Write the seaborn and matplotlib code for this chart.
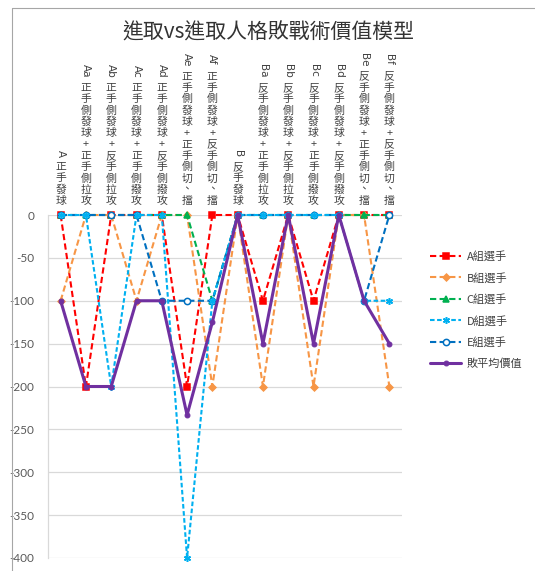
import matplotlib
matplotlib.use("Agg")
import matplotlib.pyplot as plt
import seaborn as sns
from matplotlib.transforms import blended_transform_factory
from matplotlib.lines import Line2D

# ---- data -------------------------------------------------------------
codes = ["A", "Aa", "Ab", "Ac", "Ad", "Ae", "Af",
         "B", "Ba", "Bb", "Bc", "Bd", "Be", "Bf"]
tactics = [
    "正手發球",
    "正手側發球+正手側拉攻",
    "正手側發球+反手側拉攻",
    "正手側發球+正手側撥攻",
    "正手側發球+反手側撥攻",
    "正手側發球+正手側切、擋",
    "正手側發球+反手側切、擋",
    "反手發球",
    "反手側發球+正手側拉攻",
    "反手側發球+反手側拉攻",
    "反手側發球+正手側撥攻",
    "反手側發球+反手側撥攻",
    "反手側發球+正手側切、擋",
    "反手側發球+反手側切、擋",
]
group_a = [0, -200, 0, 0, 0, -200, 0, 0, -100, 0, -100, 0, 0, 0]
group_b = [-100, 0, 0, -100, 0, 0, -200, 0, -200, 0, -200, 0, 0, -200]
group_c = [0, 0, 0, 0, 0, 0, -100, 0, 0, 0, 0, 0, 0, 0]
group_d = [0, 0, -200, 0, 0, -400, -100, 0, 0, 0, 0, 0, -100, -100]
group_e = [0, 0, 0, 0, -100, -100, -100, 0, 0, 0, 0, 0, -100, 0]
loss_avg = [-100, -200, -200, -100, -100, -233.3, -125, 0,
            -150, 0, -150, 0, -100, -150]
series_names = ["A組選手", "B組選手", "C組選手", "D組選手", "E組選手", "敗平均價值"]
y_ticks = [0, -50, -100, -150, -200, -250, -300, -350, -400]
title_text = "進取vs進取人格敗戰術價值模型"

# ---- style ------------------------------------------------------------
sns.set_style("white")
CJK = ["Noto Sans CJK TC", "DejaVu Sans"]
plt.rcParams["font.family"] = CJK
TXT = "#404040"

W, H = 535, 571
fig = plt.figure(figsize=(W / 100, H / 100), dpi=100)
fig.patch.set_facecolor("white")


def fy(py):
    return (H - py) / H


def fx(px):
    return px / W


ax = fig.add_axes([fx(48), fy(558), fx(402) - fx(48), fy(215) - fy(558)])
pos = list(range(len(codes)))

styles = [
    dict(data=group_a, color="#FF0000", marker="s", markersize=5,
         dashes=(3, 1.6), z=2.1),
    dict(data=group_b, color="#F79646", marker="D", markersize=3.5,
         dashes=(3, 1.6), z=2.2),
    dict(data=group_c, color="#00B050", marker="^", markersize=5,
         dashes=(3, 1.6), z=2.3),
    dict(data=group_d, color="#00B0F0", marker=(6, 2, 0), markersize=5,
         dashes=(2.2, 1.2), z=2.5),
    dict(data=group_e, color="#0070C0", marker="o", markersize=4.5,
         dashes=(3, 1.6), z=2.4, mfc="white"),
]

for name, st in zip(series_names[:5], styles):
    sns.lineplot(x=pos, y=st["data"], ax=ax, color=st["color"],
                 linewidth=1.5, linestyle=(0, st["dashes"]),
                 marker=st["marker"], markersize=st["markersize"],
                 markerfacecolor=st.get("mfc", st["color"]),
                 markeredgecolor=st["color"], markeredgewidth=1.1,
                 label=name, clip_on=False, zorder=st["z"], legend=False)

sns.lineplot(x=pos, y=loss_avg, ax=ax, color="#7030A0", linewidth=2.2,
             marker="o", markersize=3.5, markeredgecolor="#7030A0",
             label=series_names[5], clip_on=False, zorder=2.6, legend=False)

# ---- axes -------------------------------------------------------------
ax.set_xlim(-0.5, len(codes) - 0.5)
ax.set_ylim(-400, 0)
ax.set_xticks([])
ax.set_yticks(y_ticks)
ax.set_yticklabels([str(v) for v in y_ticks], fontsize=8.5, color="#595959",
                   family=["Lato", "DejaVu Sans"])
ax.tick_params(axis="y", length=0, pad=10)
ax.set_xlabel("")
ax.set_ylabel("")
ax.grid(axis="y", color="#D9D9D9", linewidth=0.9)
ax.set_axisbelow(True)
for side in ["top", "right", "bottom"]:
    ax.spines[side].set_visible(False)
ax.spines["left"].set_color("#D9D9D9")
ax.spines["left"].set_linewidth(0.9)

# ---- stacked category labels -----------------------------------------
trans = blended_transform_factory(ax.transData, fig.transFigure)
step = 11.3
base = 201
for i, (code, tac) in enumerate(zip(codes, tactics)):
    chars = list(tac)
    for k, ch in enumerate(reversed(chars)):
        ax.text(i, fy(base - step * k), ch, transform=trans, ha="center",
                va="center", fontsize=7.8, color=TXT)
    top_center = base - step * (len(chars) - 1)
    gap = 8.5 if len(code) == 1 else 6.5
    latin_center = top_center - (gap + 5.3 * len(code))
    ax.text(i, fy(latin_center), code, transform=trans, ha="center",
            va="center", rotation=-90, fontsize=7.5, color=TXT,
            family=["DejaVu Sans"])

# ---- legend -----------------------------------------------------------
handles, labels = ax.get_legend_handles_labels()
leg = fig.legend(handles, labels, loc="upper left",
                 bbox_to_anchor=(fx(430), fy(251)), frameon=False,
                 fontsize=8, handlelength=2.8, handletextpad=0.5,
                 labelspacing=0.95, borderpad=0, borderaxespad=0)
for t in leg.get_texts():
    t.set_color(TXT)

# ---- title and frame --------------------------------------------------
fig.text(fx(268), fy(33), title_text, ha="center", va="center",
         fontsize=15, color="#333333")
fig.add_artist(Line2D([fx(12), fx(535)], [fy(8), fy(8)], color="#A6A6A6",
                      linewidth=0.8))
fig.add_artist(Line2D([fx(12), fx(12)], [fy(8), 0], color="#A6A6A6",
                      linewidth=0.8))

fig.savefig("out.png", dpi=100, facecolor="white")
